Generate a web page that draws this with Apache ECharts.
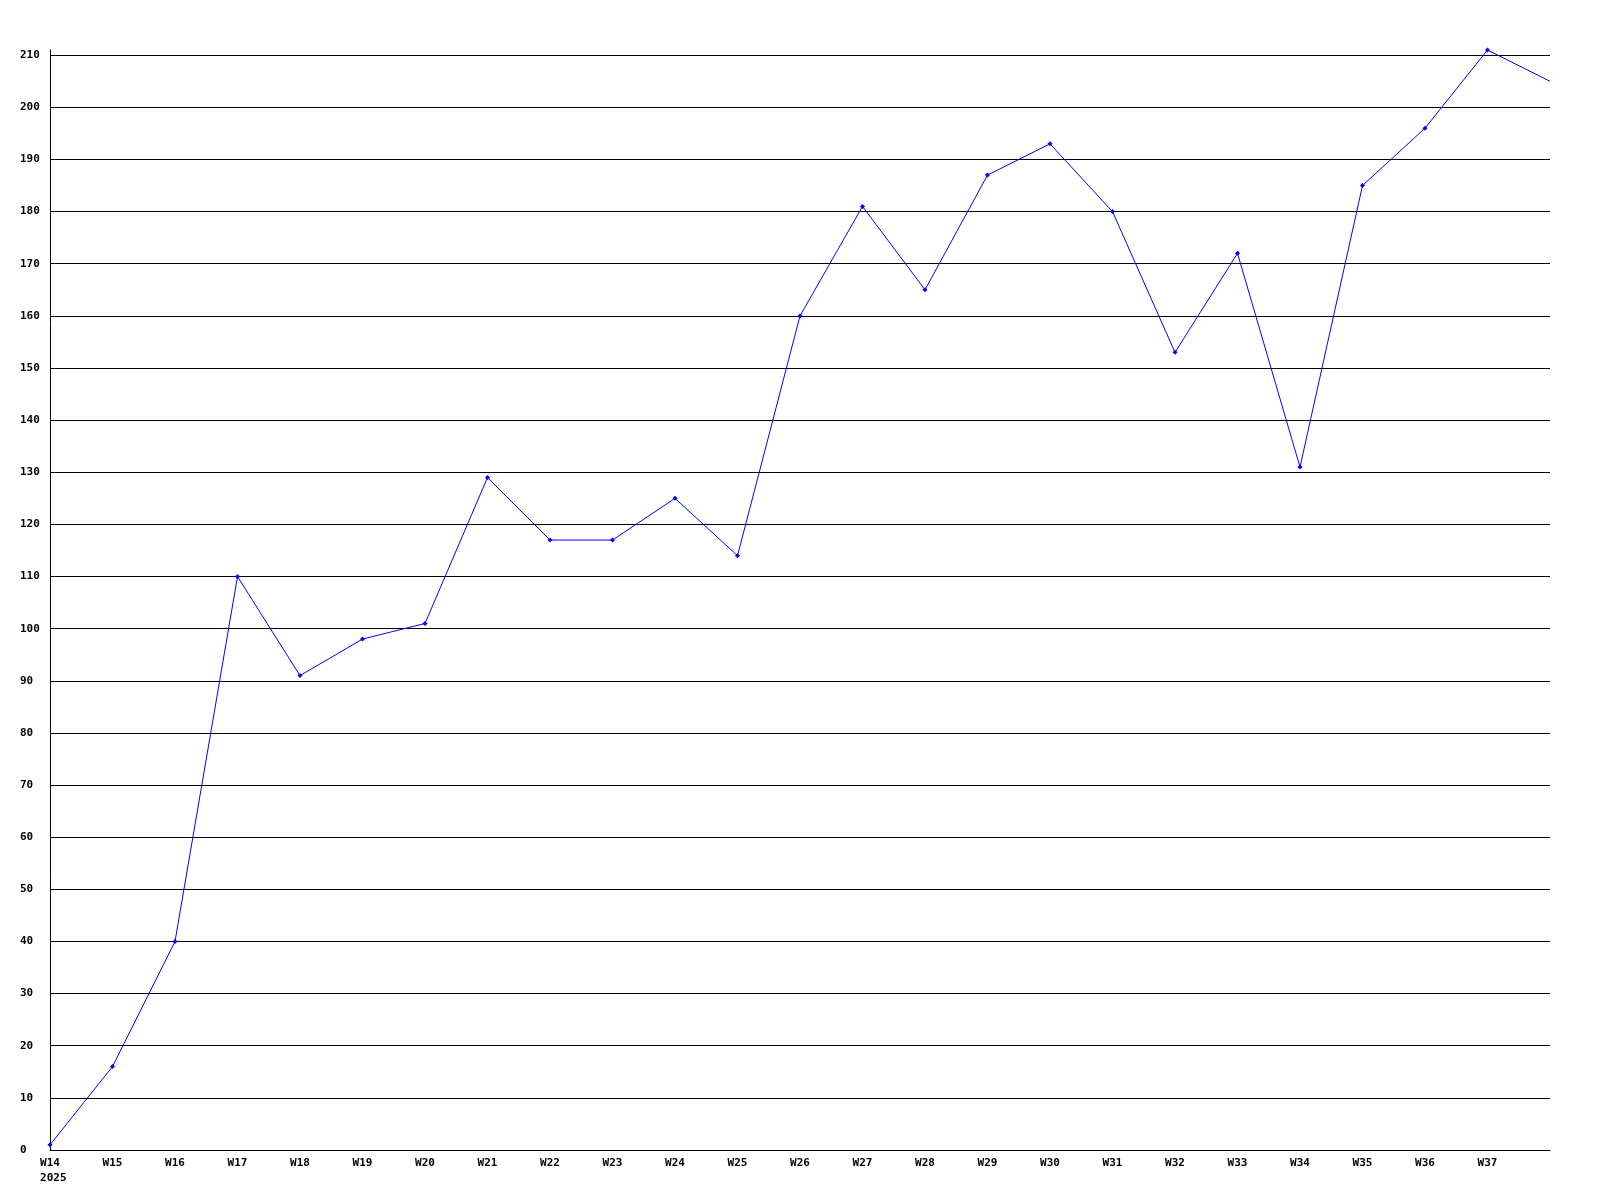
<!DOCTYPE html>
<html>
<head>
<meta charset="utf-8">
<style>
html,body{margin:0;padding:0;background:#fff;}
#chart{width:1600px;height:1200px;}
</style>
<script src="https://cdn.jsdelivr.net/npm/echarts@6/dist/echarts.min.js"></script>
</head>
<body>
<div id="chart"></div>
<script>
var weeks = ['W14','W15','W16','W17','W18','W19','W20','W21','W22','W23','W24','W25','W26','W27','W28','W29','W30','W31','W32','W33','W34','W35','W36','W37','W38'];
var weekLabels = ['W14','W15','W16','W17','W18','W19','W20','W21','W22','W23','W24','W25','W26','W27','W28','W29','W30','W31','W32','W33','W34','W35','W36','W37',''];
var yearLabel = '2025';
var values = [1,16,40,110,91,98,101,129,117,117,125,114,160,181,165,187,193,180,153,172,131,185,196,211,205];

var seriesData = values.map(function(v, i){
  return i === values.length - 1 ? {value:v, symbol:'none'} : v;
});

var chart = echarts.init(document.getElementById('chart'), null, {renderer:'canvas'});
var font = 'DejaVu Sans Mono';
chart.setOption({
  animation:false,
  backgroundColor:'#ffffff',
  grid:{left:50,right:50,top:50,bottom:50,containLabel:false},
  xAxis:{
    type:'category',
    data:weeks,
    boundaryGap:false,
    axisLine:{show:true,lineStyle:{color:'#000',width:1}},
    axisTick:{show:false},
    splitLine:{show:false},
    axisLabel:{
      interval:0,
      margin:6,
      color:'#000',
      fontFamily:font,
      fontWeight:'bold',
      fontSize:11,
      lineHeight:15,
      formatter:function(v,i){
        if(i===0){ return weekLabels[0] + '\n\u00a0' + yearLabel; }
        return weekLabels[i];
      }
    }
  },
  yAxis:{
    type:'value',
    min:0,
    max:211,
    interval:10,
    axisLine:{show:true,lineStyle:{color:'#000',width:1}},
    axisTick:{show:false},
    splitLine:{show:true,showMaxLine:false,lineStyle:{color:'#000',width:1}},
    axisLabel:{
      margin:30,
      align:'left',
      color:'#000',
      fontFamily:font,
      fontWeight:'bold',
      fontSize:11,
      showMaxLabel:false
    }
  },
  series:[{
    type:'line',
    data:seriesData,
    symbol:'diamond',
    symbolSize:5,
    showAllSymbol:true,
    lineStyle:{color:'#0000ff',width:1},
    itemStyle:{color:'#0000ff'},
    emphasis:{disabled:true}
  }]
});
</script>
</body>
</html>
